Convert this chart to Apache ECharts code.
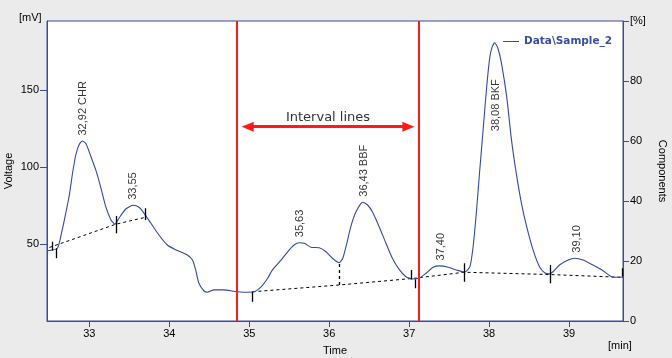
<!DOCTYPE html>
<html>
<head>
<meta charset="utf-8">
<script src="https://cdn.jsdelivr.net/npm/echarts@6/dist/echarts.min.js"></script>
<style>
  html, body { margin: 0; padding: 0; background: #ebebeb; }
  #chart { width: 672px; height: 358px; }
</style>
</head>
<body>
<div id="chart"></div>
<script>
// ---- data ----
const times = [32.47, 32.60, 32.66, 32.705, 32.746, 32.79, 32.83, 32.87, 32.91, 32.955,
  33.02, 33.08, 33.14, 33.205, 33.27, 33.32, 33.37, 33.455, 33.55, 33.62,
  33.685, 33.77, 33.87, 33.975, 34.06, 34.14, 34.225, 34.29, 34.33, 34.37,
  34.435, 34.475, 34.56, 34.68, 34.77, 34.85, 34.93, 35.06, 35.15, 35.23,
  35.29, 35.40, 35.48, 35.56, 35.625, 35.69, 35.77, 35.875, 35.96, 36.04,
  36.125, 36.17, 36.21, 36.27, 36.335, 36.42, 36.48, 36.54, 36.625, 36.71,
  36.79, 36.875, 36.96, 37.04, 37.125, 37.21, 37.30, 37.38, 37.49, 37.59,
  37.695, 37.76, 37.80, 37.84, 37.88, 37.925, 37.97, 38.01, 38.04, 38.07,
  38.11, 38.155, 38.22, 38.28, 38.34, 38.405, 38.47, 38.55, 38.63, 38.695,
  38.75, 38.80, 38.88, 38.99, 39.07, 39.175, 39.30, 39.425, 39.53, 39.63,
  39.675];
const voltage = [45.7, 47.3, 59.2, 70.2, 80.8, 96.2, 107.9, 114.4, 117, 115.5,
  106.8, 98.2, 87.3, 74.3, 65.7, 62.9, 66.8, 72.8, 75.2, 73.9,
  70, 63.5, 55.9, 49.4, 46.8, 45, 42.9, 39.7, 33.2, 24.5,
  19.5, 18.7, 20.2, 20.2, 19.7, 19, 18.7, 19, 22.3, 27.8,
  33.2, 39.7, 45, 49.4, 50.9, 50.5, 47.9, 47.6, 45, 40.8,
  37.9, 40.8, 48.3, 61.3, 71, 77.2, 75.4, 71, 61.3, 50.5,
  40.8, 33.6, 28.8, 27.3, 27.8, 31, 34.9, 35.8, 34.9, 33.2,
  31.7, 35.3, 48.3, 70, 96, 124.2, 152.3, 171.8, 178.3, 180.9,
  177.3, 167.5, 145.8, 117.7, 96, 76.5, 61.3, 46.2, 35.3, 31.4,
  30.6, 32, 36.4, 39.7, 40.8, 39.7, 36.4, 32.7, 28.8, 28.4,
  28.4];

// baseline (dashed), null separates segments
const baseTimes  = [32.50, 33.33, 33.70, null, 35.04, 36.125, 37.07, 37.69, 38.76, 39.665];
const baseValues = [47.8, 62.9, 67.4, null, 19, 23.4, 27.8, 31.7, 30.2, 28.4];

// peak boundary ticks: [time, low, high]
const boundaryTicks = [[32.54, 45.7, 51.6], [32.58, 40.8, 47.3], [33.33, 57, 68.3], [33.705, 65.6, 73.3],
  [35.04, 12.5, 19], [37.03, 27.1, 33.2], [37.075, 21.3, 27.1], [37.69, 25.5, 37.5],
  [38.76, 24.5, 36.4], [39.665, 28.8, 34.3]];
const dropLines = [[36.125, 23.4, 37.9]];

// peaks
const peakTimes  = [32.92, 33.55, 35.63, 36.43, 37.40, 38.08, 39.10];
const peakValues = [117, 75.2, 50.9, 77.2, 35.8, 180.9, 40.8];
const peakNames  = ['32,92 CHR', '33,55', '35,63', '36,43 BBF', '37,40', '38,08 BKF', '39,10'];

// interval annotation
const intervalBounds = [34.8425, 37.12];
const arrowEnds = [34.98, 36.99];
const arrowLevel = 126.3;
const intervalText = 'Interval lines';

// axis ticks
const timeTicks = [33, 34, 35, 36, 37, 38, 39];
const voltTicks = [50, 100, 150];

const seriesName = 'Data\\Sample_2';
const lineColor = '#3349a3';
const axisColor = '#3a4a9c';
const font = '"Liberation Sans", Arial, sans-serif';

const chart = echarts.init(document.getElementById('chart'), null, { renderer: 'canvas' });

const peakData = peakTimes.map((t, i) => {
  const item = { name: peakNames[i], value: [t, peakValues[i]] };
  if (peakNames[i].indexOf('BKF') >= 0) {
    item.label = { position: 'bottom', distance: 36, align: 'right', verticalAlign: 'middle' };
  }
  return item;
});

const option = {
  animation: false,
  backgroundColor: '#ebebeb',
  textStyle: { fontFamily: font },
  grid: { left: 47, top: 21, right: 49, bottom: 37, show: true, backgroundColor: '#ffffff',
          borderColor: axisColor, borderWidth: 1, containLabel: false, outerBoundsMode: 'none' },
  legend: {
    left: 498, top: 31, icon: 'rect', itemWidth: 16, itemHeight: 1,
    data: [seriesName],
    textStyle: { color: '#3a4ea6', fontWeight: 'bold', fontSize: 10.5, fontFamily: '"DejaVu Sans", sans-serif' }
  },
  xAxis: {
    type: 'value', min: 32.47, max: 39.675,
    name: 'Time', nameLocation: 'middle', nameGap: 24, nameMoveOverlap: false,
    nameTextStyle: { color: '#000', fontSize: 11, fontFamily: font },
    axisLine: { show: true, lineStyle: { color: axisColor } },
    axisTick: { show: true, length: 6, lineStyle: { color: axisColor }, customValues: timeTicks },
    axisLabel: { color: '#000', fontSize: 11, margin: 7, customValues: timeTicks },
    splitLine: { show: false }
  },
  yAxis: [{
    type: 'value', min: 0, max: 195, position: 'left',
    name: 'Voltage', nameLocation: 'middle', nameGap: 33, nameRotate: 90, nameMoveOverlap: false,
    nameTextStyle: { color: '#000', fontSize: 11, fontFamily: font },
    axisLine: { show: true, lineStyle: { color: axisColor } },
    axisTick: { show: true, length: 7, lineStyle: { color: axisColor }, customValues: voltTicks },
    axisLabel: { color: '#000', fontSize: 11, margin: 8, customValues: voltTicks },
    splitLine: { show: false }
  }, {
    type: 'value', min: 0, max: 100, interval: 20, position: 'right',
    name: 'Components', nameLocation: 'middle', nameGap: 34, nameRotate: -90, nameMoveOverlap: false,
    nameTextStyle: { color: '#000', fontSize: 11, fontFamily: font },
    axisLine: { show: true, lineStyle: { color: axisColor } },
    axisTick: { show: true, length: 6, lineStyle: { color: axisColor } },
    axisLabel: { color: '#000', fontSize: 11, margin: 7,
                 formatter: v => (v === 100 ? '[%]' : String(v)) },
    splitLine: { show: false }
  }],
  graphic: [
    { type: 'text', left: 19, top: 12, style: { text: '[mV]', fill: '#000', font: '11px ' + font } },
    { type: 'text', left: 608, top: 340, style: { text: '[min]', fill: '#000', font: '11px ' + font } }
  ],
  series: [
    {
      name: 'baseline', type: 'line', yAxisIndex: 0,
      data: baseTimes.map((t, i) => (t === null ? [null, null] : [t, baseValues[i]])),
      connectNulls: false, showSymbol: false, symbol: 'none', silent: true,
      lineStyle: { color: '#000', width: 1, type: [3, 3] },
      markLine: {
        silent: true, symbol: ['none', 'none'], animation: false,
        label: { show: false },
        data: boundaryTicks.map(d => [
          { coord: [d[0], d[1]], lineStyle: { color: '#000', width: 1.3, type: 'solid' } },
          { coord: [d[0], d[2]] }
        ]).concat(dropLines.map(d => [
          { coord: [d[0], d[1]], lineStyle: { color: '#000', width: 1.3, type: [3, 3] } },
          { coord: [d[0], d[2]] }
        ]))
      },
      z: 2
    },
    {
      name: seriesName, type: 'line', yAxisIndex: 0,
      data: times.map((t, i) => [t, voltage[i]]),
      showSymbol: false, symbol: 'none', smooth: 0.2,
      lineStyle: { color: lineColor, width: 1.1 },
      itemStyle: { color: lineColor },
      z: 3
    },
    {
      name: 'peaks', type: 'scatter', yAxisIndex: 0,
      symbolSize: 1, itemStyle: { color: 'rgba(0,0,0,0)' }, silent: true,
      data: peakData,
      label: {
        show: true, formatter: p => p.name, rotate: 90,
        position: 'top', distance: 5, align: 'left', verticalAlign: 'middle',
        color: '#000', fontSize: 11, fontFamily: font
      },
      labelLayout: { hideOverlap: false },
      z: 4
    },
    {
      name: 'interval', type: 'line', yAxisIndex: 0, data: [],
      markLine: {
        silent: true, symbol: ['none', 'none'],
        label: { show: false },
        lineStyle: { color: '#ff1a1a', width: 2, type: 'solid' },
        data: intervalBounds.map(t => ({ xAxis: t }))
          .concat([[
            { coord: [arrowEnds[0], arrowLevel], symbol: 'triangle', symbolSize: [10, 12],
              lineStyle: { color: '#ff1a1a', width: 3, type: 'solid' },
              label: { show: true, position: 'middle', formatter: intervalText, distance: 3,
                       color: '#333', fontSize: 13, fontFamily: '"DejaVu Sans", sans-serif' } },
            { coord: [arrowEnds[1], arrowLevel], symbol: 'triangle', symbolSize: [10, 12] }
          ]])
      },
      z: 5
    }
  ]
};
chart.setOption(option);
</script>
</body>
</html>
